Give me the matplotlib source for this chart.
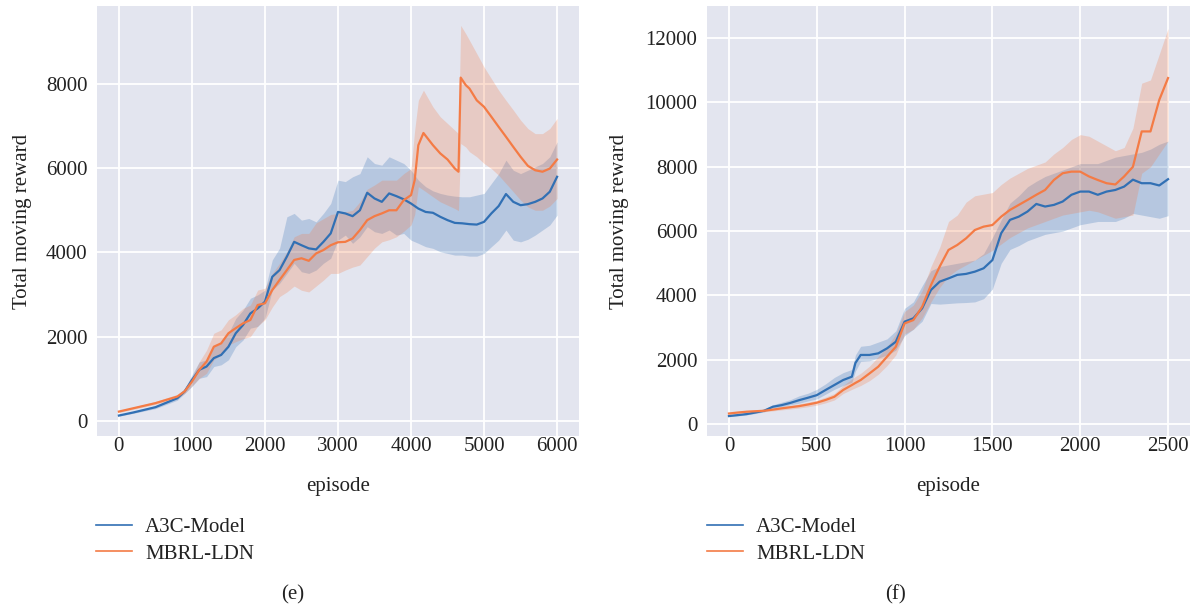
import matplotlib
matplotlib.use("Agg")
import matplotlib.pyplot as plt
from matplotlib.lines import Line2D

# ---- panel (e) ----
ep_a3c_e = [0, 200, 500, 800, 900, 1000, 1100, 1200, 1300, 1400, 1500, 1600, 1700, 1800, 1900,
            2000, 2100, 2200, 2300, 2400, 2500, 2600, 2700, 2800, 2900, 3000, 3100, 3200, 3300,
            3400, 3500, 3600, 3700, 3800, 3900, 4000, 4100, 4200, 4300, 4400, 4500, 4600, 4700,
            4800, 4900, 5000, 5100, 5200, 5300, 5400, 5500, 5600, 5700, 5800, 5900, 6000]
a3c_e = [126, 200, 324, 537, 700, 970, 1210, 1290, 1490, 1565, 1760, 2080, 2277, 2550, 2670,
         2830, 3420, 3580, 3900, 4250, 4170, 4095, 4070, 4250, 4450, 4960, 4925, 4860, 5000,
         5415, 5280, 5200, 5400, 5335, 5260, 5160, 5040, 4960, 4940, 4845, 4765, 4700, 4690,
         4670, 4660, 4725, 4925, 5100, 5385, 5200, 5120, 5145, 5200, 5280, 5440, 5795]
a3c_e_lo = [110, 180, 290, 490, 650, 815, 1010, 1050, 1290, 1330, 1450, 1760, 1920, 2200, 2240,
            2435, 3105, 3265, 3500, 3740, 3540, 3500, 3580, 3740, 3860, 4290, 4410, 4215, 4370,
            4610, 4490, 4450, 4530, 4410, 4450, 4290, 4215, 4135, 4095, 4015, 3975, 3935, 3935,
            3910, 3910, 3975, 4135, 4290, 4530, 4290, 4250, 4310, 4410, 4530, 4650, 4885]
a3c_e_hi = [140, 225, 360, 590, 750, 1090, 1400, 1450, 1760, 1840, 2080, 2430, 2630, 2910, 2990,
            3105, 3820, 4100, 4845, 4925, 4765, 4805, 4725, 4925, 5160, 5715, 5680, 5795, 5870,
            6270, 6110, 6070, 6270, 6190, 6110, 5950, 5715, 5560, 5460, 5400, 5360, 5335, 5320,
            5320, 5360, 5400, 5635, 5870, 6190, 5950, 5870, 5950, 6030, 6110, 6270, 6625]

ep_mbrl_e = [0, 500, 800, 900, 1000, 1100, 1200, 1300, 1400, 1500, 1600, 1700, 1800, 1900, 2000,
             2100, 2200, 2300, 2400, 2500, 2600, 2700, 2800, 2900, 3000, 3100, 3200, 3300, 3400,
             3500, 3600, 3700, 3800, 3900, 4000, 4050, 4100, 4170, 4300, 4400, 4500, 4600, 4650,
             4680, 4750, 4800, 4900, 5000, 5100, 5200, 5300, 5400, 5500, 5600, 5700, 5800, 5900, 6000]
mbrl_e = [220, 420, 577, 700, 930, 1210, 1405, 1760, 1840, 2080, 2200, 2315, 2395, 2750, 2790,
          3105, 3345, 3580, 3820, 3860, 3800, 3975, 4055, 4170, 4240, 4250, 4330, 4530, 4765,
          4860, 4925, 5000, 5000, 5240, 5360, 5715, 6545, 6835, 6545, 6350, 6205, 5990, 5915,
          8150, 7970, 7890, 7610, 7455, 7220, 6980, 6745, 6505, 6270, 6055, 5950, 5915, 5990, 6205]
mbrl_e_lo = [200, 390, 530, 650, 830, 1010, 1130, 1450, 1560, 1800, 1880, 1950, 2000, 2250, 2400,
             2700, 2950, 3060, 3200, 3100, 3060, 3200, 3340, 3500, 3500, 3580, 3650, 3700, 3900,
             4100, 4250, 4300, 4370, 4500, 4650, 4900, 5560, 5480, 5320, 5200, 5120, 5040, 4990,
             6585, 6500, 6390, 6270, 6110, 5990, 5830, 5635, 5440, 5240, 5080, 5000, 5000, 5100, 5280]
mbrl_e_hi = [240, 460, 630, 760, 1030, 1400, 1680, 2080, 2160, 2400, 2520, 2670, 2750, 3105, 3150,
             3500, 3740, 4015, 4370, 4450, 4450, 4700, 4800, 4900, 4925, 4960, 5000, 5200, 5500,
             5600, 5715, 5715, 5715, 5870, 5990, 6900, 7610, 7850, 7455, 7220, 7060, 6900, 6820,
             9390, 9190, 9035, 8720, 8400, 8125, 7850, 7610, 7380, 7140, 6940, 6820, 6820, 6940, 7180]

# ---- panel (f) ----
ep_f = [0, 50, 100, 150, 200, 250, 300, 350, 400, 450, 500, 550, 600, 650, 700, 720, 750, 800, 850,
        900, 950, 1000, 1050, 1100, 1150, 1200, 1250, 1300, 1350, 1400, 1450, 1500, 1550, 1600,
        1650, 1700, 1750, 1800, 1850, 1900, 1950, 2000, 2050, 2100, 2150, 2200, 2250, 2300, 2350,
        2400, 2450, 2500]
a3c_f = [250, 280, 310, 360, 415, 540, 590, 660, 745, 820, 900, 1060, 1215, 1370, 1475, 1900, 2150,
         2150, 2200, 2355, 2560, 3185, 3290, 3600, 4170, 4430, 4530, 4640, 4670, 4740, 4845, 5100,
         5935, 6350, 6450, 6610, 6845, 6765, 6815, 6920, 7130, 7230, 7230, 7130, 7230, 7280, 7385,
         7600, 7490, 7490, 7420, 7615]
a3c_f_lo = [230, 255, 285, 330, 380, 490, 540, 600, 650, 720, 780, 930, 1080, 1200, 1300, 1650, 1950,
            1970, 2050, 2150, 2300, 2750, 2950, 3200, 3750, 3730, 3750, 3770, 3780, 3800, 3900, 4200,
            5000, 5430, 5550, 5700, 5800, 5900, 5950, 6000, 6100, 6200, 6250, 6300, 6300, 6300, 6400,
            6550, 6500, 6450, 6400, 6480]
a3c_f_hi = [280, 310, 345, 400, 460, 600, 680, 760, 880, 960, 1080, 1250, 1450, 1600, 1700, 2150, 2420,
            2450, 2550, 2650, 2900, 3600, 3800, 4300, 4770, 4900, 4950, 5000, 5050, 5100, 5300, 5800,
            6350, 6870, 7100, 7380, 7550, 7700, 7800, 7900, 8000, 8100, 8100, 8100, 8200, 8300, 8350,
            8400, 8450, 8550, 8700, 8800]
mbrl_f = [330, 360, 385, 400, 415, 450, 490, 525, 560, 610, 665, 750, 850, 1060, 1215, 1280, 1370,
          1575, 1785, 2095, 2405, 3130, 3235, 3650, 4320, 4900, 5415, 5570, 5775, 6035, 6140, 6190,
          6450, 6660, 6815, 6970, 7130, 7280, 7590, 7800, 7850, 7850, 7700, 7590, 7490, 7450, 7700,
          8000, 9100, 9100, 10080, 10760]
mbrl_f_lo = [300, 320, 350, 370, 385, 410, 440, 470, 500, 540, 590, 660, 750, 950, 1080, 1130, 1200,
             1350, 1550, 1820, 2150, 2800, 2950, 3300, 3800, 4250, 4600, 4800, 4950, 5100, 5250, 5400,
             5600, 5800, 5950, 6100, 6200, 6300, 6400, 6500, 6550, 6600, 6650, 6600, 6500, 6400, 6450,
             6500, 7800, 8000, 8400, 8800]
mbrl_f_hi = [360, 390, 420, 440, 450, 490, 540, 580, 630, 680, 740, 840, 950, 1200, 1400, 1480, 1580,
             1800, 2100, 2400, 2800, 3500, 3700, 4150, 4900, 5500, 6300, 6500, 6900, 7100, 7150, 7200,
             7450, 7650, 7800, 7950, 8050, 8150, 8400, 8600, 8850, 9000, 8950, 8800, 8650, 8500, 8600,
             9200, 10600, 10700, 11500, 12300]

labels = ["A3C-Model", "MBRL-LDN"]
blue = "#3170b4"
orange = "#f47b45"

plt.rcParams["font.family"] = ["Liberation Serif", "DejaVu Serif"]
plt.rcParams["font.size"] = 15

fig = plt.figure(figsize=(12, 6.12), dpi=100)
ax_e = fig.add_axes([97 / 1200, 176 / 612, 482 / 1200, 430 / 612])
ax_f = fig.add_axes([707 / 1200, 176 / 612, 483 / 1200, 430 / 612])

panels = [
    (ax_e, [(ep_a3c_e, a3c_e, a3c_e_lo, a3c_e_hi, blue), (ep_mbrl_e, mbrl_e, mbrl_e_lo, mbrl_e_hi, orange)],
     (-300, 6300), (-360, 9850), range(0, 6001, 1000), range(0, 8001, 2000), -0.135),
    (ax_f, [(ep_f, a3c_f, a3c_f_lo, a3c_f_hi, blue), (ep_f, mbrl_f, mbrl_f_lo, mbrl_f_hi, orange)],
     (-125, 2625), (-370, 13000), range(0, 2501, 500), range(0, 12001, 2000), -0.161),
]

for ax, series, xl, yl, xt, yt, ylab_x in panels:
    ax.set_facecolor("#e3e5ef")
    for x, m, lo, hi, c in series:
        ax.fill_between(x, lo, hi, color=c, alpha=0.25, lw=0)
        ax.plot(x, m, color=c, lw=1.6)
    ax.set_xlim(*xl)
    ax.set_ylim(*yl)
    ax.set_xticks(list(xt))
    ax.set_yticks(list(yt))
    ax.grid(True, color="white", lw=1.3)
    ax.set_axisbelow(True)
    for s in ax.spines.values():
        s.set_visible(False)
    ax.tick_params(axis="both", length=0, colors="#222222", labelsize=15)
    ax.tick_params(axis="x", pad=1)
    ax.tick_params(axis="y", pad=7)
    ax.set_xlabel("episode", fontsize=15, color="#222222")
    ax.set_ylabel("Total moving reward", fontsize=15, color="#222222")
    ax.xaxis.set_label_coords(0.5, -0.095)
    ax.yaxis.set_label_coords(ylab_x, 0.5)

handles = [Line2D([], [], color=blue, lw=1.2), Line2D([], [], color=orange, lw=1.2)]
for lx in (96 / 1200, 707 / 1200):
    fig.legend(handles, labels, loc="center left", bbox_to_anchor=(lx, 1 - 540.5 / 612),
               frameon=False, borderpad=0, borderaxespad=0, handlelength=1.75,
               handletextpad=0.6, labelspacing=0.35, fontsize=15, labelcolor="#222222")

fig.text(293 / 1200, 1 - 595 / 612, "(e)", ha="center", va="center", fontsize=15, color="#222222")
fig.text(896 / 1200, 1 - 595 / 612, "(f)", ha="center", va="center", fontsize=15, color="#222222")

fig.savefig("out.png", dpi=100, facecolor="white")
